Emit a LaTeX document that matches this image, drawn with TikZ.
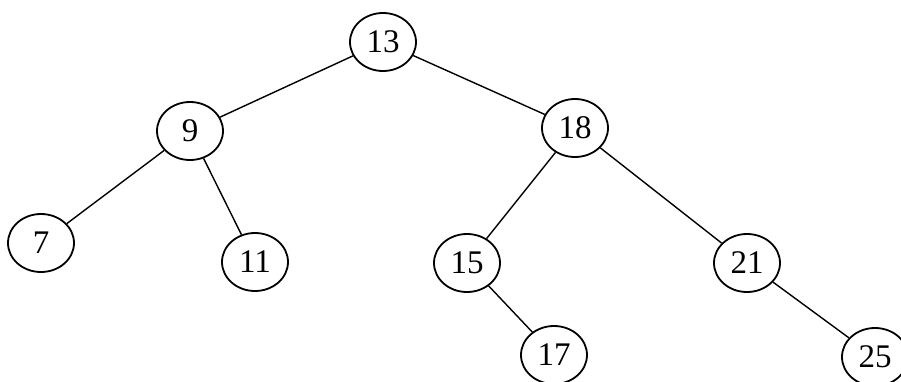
\documentclass[tikz,border=0pt]{standalone}
\usepackage{fontspec}
\setmainfont{Liberation Serif}
\usetikzlibrary{shapes.geometric}
\tikzset{
  key/.style={draw, ellipse, line width=0.9pt, inner sep=0pt,
    minimum width=33pt, minimum height=29pt,
    font=\fontsize{16.5}{18}\selectfont},
  branch/.style={line width=0.7pt}
}

\begin{document}
\begin{tikzpicture}[x=0.5pt, y=-0.5pt]
  \useasboundingbox (0,0) rectangle (901,381);
  \node [key] (n13) at (383,42) {13};
  \node [key] (n9) at (190,131) {9};
  \node [key] (n18) at (575,128) {18};
  \node [key] (n7) at (41,243) {7};
  \node [key] (n11) at (255,262) {11};
  \node [key] (n15) at (467,263) {15};
  \node [key] (n21) at (747,263) {21};
  \node [key] (n17) at (554,355) {17};
  \node [key] (n25) at (875,357) {25};

  \draw [branch] (n13) -- (n9);
  \draw [branch] (n13) -- (n18);
  \draw [branch] (n9) -- (n7);
  \draw [branch] (n9) -- (n11);
  \draw [branch] (n18) -- (n15);
  \draw [branch] (n18) -- (n21);
  \draw [branch] (n15) -- (n17);
  \draw [branch] (n21) -- (n25);
\end{tikzpicture}
\end{document}
